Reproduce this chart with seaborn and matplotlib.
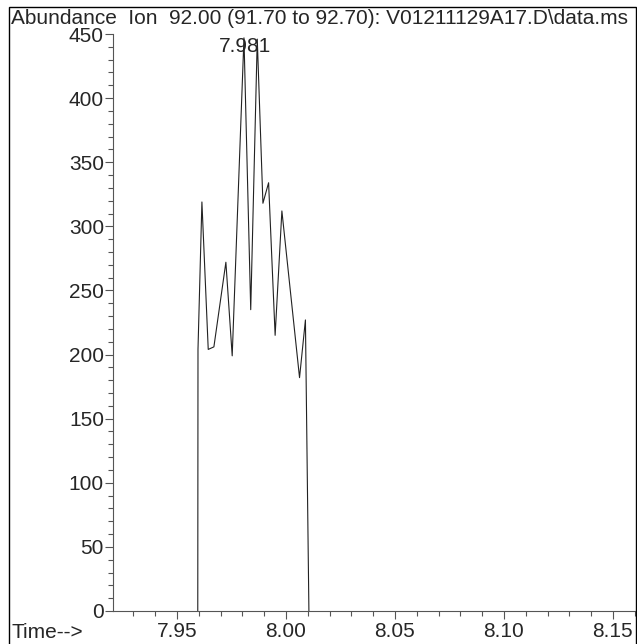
import matplotlib
matplotlib.use("Agg")
import numpy as np
import matplotlib.pyplot as plt
import seaborn as sns
from matplotlib.ticker import MultipleLocator, FormatStrFormatter
from matplotlib.patches import Rectangle

# extracted ion chromatogram, ion 92
times = [7.9595, 7.9596, 7.9614, 7.9643, 7.9669, 7.9724, 7.9753, 7.9807,
         7.9838, 7.9868, 7.9894, 7.9920, 7.9950, 7.9981, 8.0062, 8.0089, 8.0105]
abund = [0, 204, 319, 204, 206, 272, 199, 447,
         235, 446, 318, 334, 215, 312, 182, 227, 0]
peak_rt = 7.981
x_ticks = [7.95, 8.00, 8.05, 8.10, 8.15]
title = "Abundance  Ion  92.00 (91.70 to 92.70): V01211129A17.D\\data.ms"

sns.set_style("ticks")
plt.rcParams['font.family'] = ['Liberation Sans', 'DejaVu Sans']
fs = 15

fig = plt.figure(figsize=(6.37, 6.44), dpi=100)
ax = fig.add_axes([113/637, 1 - 611/644, (636 - 113)/637, (611 - 34)/644])

sns.lineplot(x=times, y=abund, ax=ax, color="#222222", linewidth=0.8,
             estimator=None)

ax.set_xlim(7.9206, 8.1606)
ax.set_ylim(0, 450)
ax.set_xticks(x_ticks)
ax.xaxis.set_major_formatter(FormatStrFormatter('%.2f'))
ax.xaxis.set_minor_locator(MultipleLocator(0.01))
ax.yaxis.set_major_locator(MultipleLocator(50))
ax.yaxis.set_minor_locator(MultipleLocator(10))
ax.tick_params(which='major', length=6, width=0.8, color='#555555',
               labelsize=fs, pad=2)
ax.tick_params(which='minor', length=3.5, width=0.8, color='#555555')
ax.tick_params(axis='y', which='major', pad=0.5)
for s in ['top', 'right']:
    ax.spines[s].set_visible(False)
for s in ['left', 'bottom']:
    ax.spines[s].set_linewidth(0.8)
    ax.spines[s].set_color('#555555')
ax.set_xlabel('')
ax.set_ylabel('')

ax.text(peak_rt, 440, f"{peak_rt:.3f}", ha='center', va='center',
        fontsize=fs, zorder=5)

fig.text(11/637, 1 - 18/644, title, ha='left', va='center', fontsize=fs)
fig.text(11/637, 1 - 633/644, "Time-->", ha='left', va='center', fontsize=fs)

fig.patches.append(Rectangle((9/637, -0.01), (636 - 9)/637, 1 - 7/644 + 0.01,
                             transform=fig.transFigure, fill=False,
                             edgecolor='black', linewidth=1.0))

fig.savefig("out.png", dpi=100)
